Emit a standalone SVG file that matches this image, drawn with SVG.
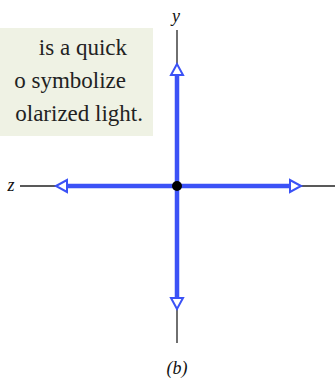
<svg xmlns="http://www.w3.org/2000/svg" width="335" height="379" viewBox="0 0 335 379">
<style>
.cap{font-family:"Liberation Serif","DejaVu Serif",serif;font-size:23px;fill:#222;}
.lab{font-family:"Liberation Serif","DejaVu Serif",serif;font-style:italic;font-size:18px;fill:#111;}
.ax{stroke:#222;stroke-width:1.3;fill:none;}
.bl{stroke:#3b52f6;stroke-width:4.5;fill:none;}
.hd{stroke:#3b52f6;stroke-width:2;fill:#fff;stroke-linejoin:miter;}
</style>
<rect width="335" height="379" fill="#fff"/>
<g id="caption">
<rect x="0" y="28" width="153" height="108" fill="#eff2e4"/>
<text class="cap" x="127" y="55" text-anchor="end">is a quick</text>
<text class="cap" x="126" y="88" text-anchor="end">o symbolize</text>
<text class="cap" x="143" y="121" text-anchor="end">olarized light.</text>
</g>
<g id="connectors">
<line class="ax" x1="177" y1="30" x2="177" y2="64"/>
<line class="ax" x1="177" y1="309" x2="177" y2="343"/>
<line class="ax" x1="20" y1="186" x2="56" y2="186"/>
<line class="ax" x1="301" y1="186" x2="335" y2="186"/>
<line class="bl" x1="177" y1="75" x2="177" y2="298"/>
<line class="bl" x1="67" y1="186" x2="290" y2="186"/>
<polygon class="hd" points="177,64 171,75 183,75"/>
<polygon class="hd" points="177,309 171,298 183,298"/>
<polygon class="hd" points="56,186 67,180 67,192"/>
<polygon class="hd" points="301,186 290,180 290,192"/>
</g>
<g id="origin"><circle cx="177" cy="186" r="5" fill="#000"/></g>
<g id="labels">
<text class="lab" x="176" y="22" text-anchor="middle">y</text>
<text class="lab" x="11" y="191" text-anchor="middle">z</text>
<text class="lab" x="177" y="374" text-anchor="middle">(b)</text>
</g>
</svg>
